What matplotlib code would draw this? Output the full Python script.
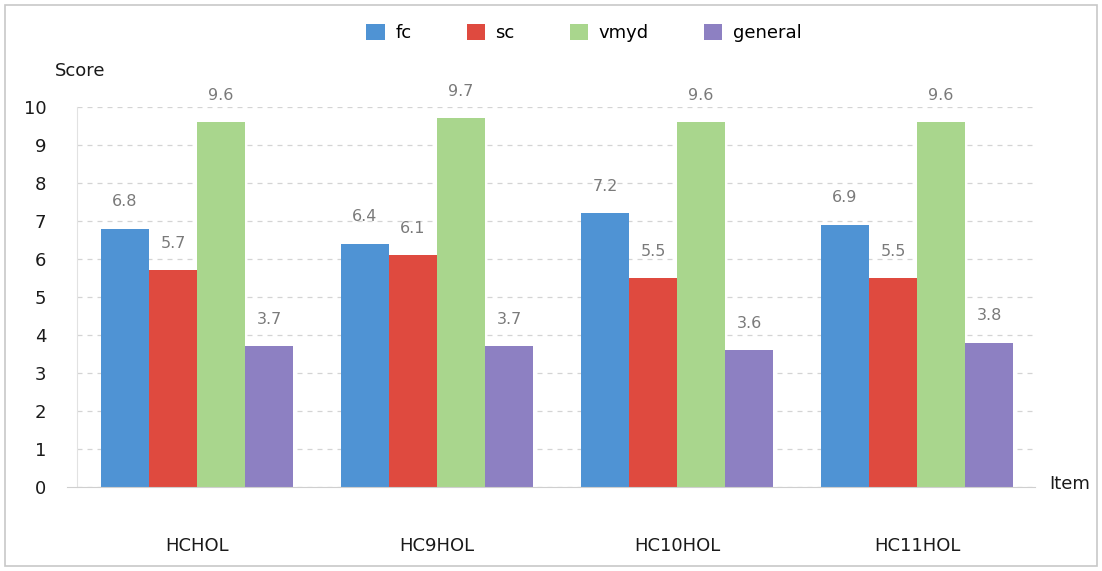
import numpy as np
import matplotlib.pyplot as plt
from matplotlib.patches import Rectangle

plt.rcParams['font.family'] = ['DejaVu Sans']

items = ['HCHOL', 'HC9HOL', 'HC10HOL', 'HC11HOL']
series = ['fc', 'sc', 'vmyd', 'general']
fc = [6.8, 6.4, 7.2, 6.9]
sc = [5.7, 6.1, 5.5, 5.5]
vmyd = [9.6, 9.7, 9.6, 9.6]
general = [3.7, 3.7, 3.6, 3.8]
colors = ['#4f93d4', '#df4a3f', '#a9d68d', '#8d80c2']

fig = plt.figure(figsize=(11.02, 5.71), dpi=100)
# outer frame of the scanned chart
fig.patches.append(Rectangle((5 / 1102, 5 / 571), 1092 / 1102, 561 / 571,
                             transform=fig.transFigure, fill=False,
                             edgecolor='#c8c8c8', linewidth=1.2))
ax = fig.add_axes([77 / 1102, 1 - 487 / 571, 960 / 1102, 380 / 571])

x = np.arange(len(items))
w = 0.2
handles = []
for i, (vals, name) in enumerate(zip([fc, sc, vmyd, general], series)):
    pos = x + (i - 1.5) * w
    b = ax.bar(pos, vals, w, color=colors[i], label=name, zorder=2)
    handles.append(b)
    for px, v in zip(pos, vals):
        ax.annotate(f'{v:.1f}', (px, v), xytext=(0, 14), textcoords='offset points',
                    ha='center', va='bottom', fontsize=11.5, color='#7a7a7a',
                    annotation_clip=False)

ax.set_xlim(-0.5, 3.5)
ax.set_ylim(0, 10)
ax.set_yticks(range(0, 11))
ax.yaxis.grid(True, linestyle=(0, (4, 4)), color='#d4d4d4', linewidth=0.9)
ax.set_axisbelow(True)
for s in ['top', 'right']:
    ax.spines[s].set_visible(False)
ax.spines['left'].set_color('#e2e2e2')
ax.spines['bottom'].set_color('#cfcfcf')
ax.spines['bottom'].set_bounds(-0.54, 3.49)
ax.tick_params(axis='y', length=0, pad=22, labelsize=13, labelcolor='#1a1a1a')
ax.tick_params(axis='x', length=0, pad=36, labelsize=13, labelcolor='#1a1a1a')
ax.set_xticks(x)
ax.set_xticklabels(items)

fig.text(80 / 1102, 1 - 71 / 571, 'Score', fontsize=13, ha='center', va='center', color='#1a1a1a')
fig.text(1070 / 1102, 1 - 484 / 571, 'Item', fontsize=13, ha='center', va='center', color='#1a1a1a')

fig.legend(handles=handles, loc='center', bbox_to_anchor=(584 / 1102, 1 - 33 / 571),
           ncol=4, frameon=False, fontsize=13, handlelength=1.0, handleheight=1.0,
           columnspacing=3.05, handletextpad=0.6)

fig.savefig('out.png', dpi=100)
